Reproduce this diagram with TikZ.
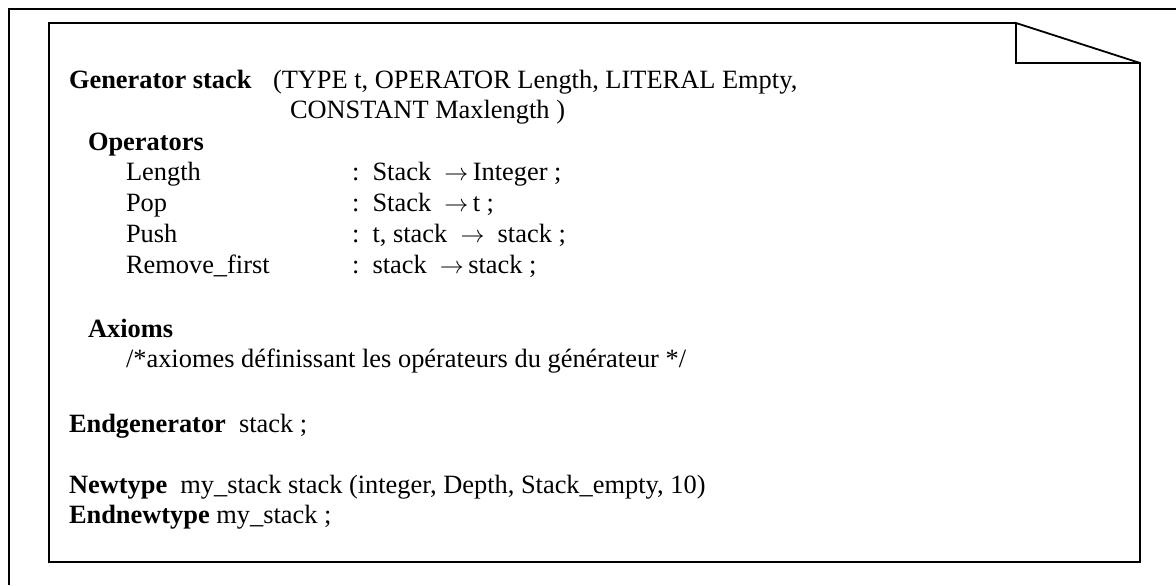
\documentclass[tikz,border=0pt]{standalone}
\usepackage{fontspec}
\setmainfont{Liberation Serif}
\begin{document}
\begin{tikzpicture}[x=0.5pt,y=-0.5pt,
  txt/.style={anchor=base west,inner sep=0pt,outer sep=0pt,font=\fontsize{13.2}{15}\selectfont},
  frame/.style={line width=0.7pt},
  doc/.style={line width=0.9pt}]
\useasboundingbox (0,0) rectangle (1176,585);
% outer frame
\coordinate (o1) at (9,585);
\coordinate (o2) at (9,9);
\coordinate (o3) at (1176,9);
\draw[frame] (o1) -- (o2) -- (o3);
% document shape with folded corner
\coordinate (tl) at (49,23);
\coordinate (ft) at (1016,23);
\coordinate (fb) at (1016,63);
\coordinate (fr) at (1140,63);
\coordinate (br) at (1140,562);
\coordinate (bl) at (49,562);
\draw[doc] (ft) -- (tl) -- (bl) -- (br) -- (fr) -- (ft) -- (fb) -- (fr);
% text
\node[txt] (gen) at (69,88) {\textbf{Generator stack}};
\node[txt] (genp) at (273,88) {(TYPE t, OPERATOR Length, LITERAL Empty,};
\node[txt] (genp2) at (290,118) {CONSTANT Maxlength )};
\node[txt] (ops) at (88,150) {\textbf{Operators}};
\node[txt] (l1) at (126,180) {Length};
\node[txt] (r1) at (352,180) {:\ \ Stack\ \ $\rightarrow$\,Integer ;};
\node[txt] (l2) at (126,211) {Pop};
\node[txt] (r2) at (352,211) {:\ \ Stack\ \ $\rightarrow$\,t ;};
\node[txt] (l3) at (126,242) {Push};
\node[txt] (r3) at (352,242) {:\ \ t, stack\ \ $\rightarrow$\ \ stack ;};
\node[txt] (l4) at (126,273) {Remove\_first};
\node[txt] (r4) at (352,273) {:\ \ stack\ \ $\rightarrow$\,stack ;};
\node[txt] (ax) at (88,337) {\textbf{Axioms}};
\node[txt] (axc) at (126,367) {/*axiomes définissant les opérateurs du générateur */};
\node[txt] (eg) at (69,432) {\textbf{Endgenerator}\ \ stack ;};
\node[txt] (nt) at (69,493) {\textbf{Newtype}\ \ my\_stack stack (integer, Depth, Stack\_empty, 10)};
\node[txt] (ent) at (69,523) {\textbf{Endnewtype} my\_stack ;};
\end{tikzpicture}
\end{document}
